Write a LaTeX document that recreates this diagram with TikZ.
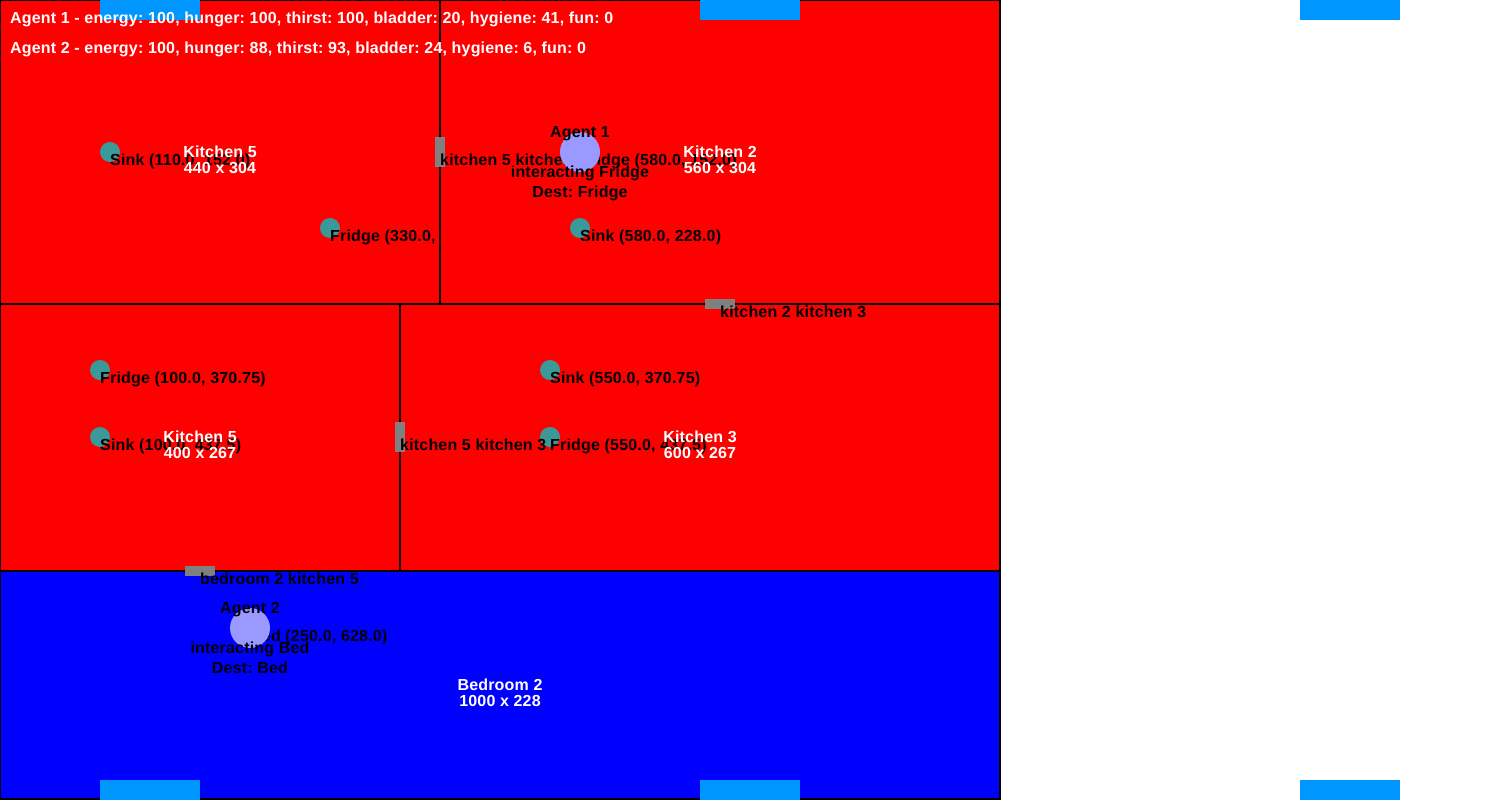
\documentclass[tikz,border=0pt]{standalone}
\usepackage{fontspec}
\setmainfont{Liberation Sans}[BoldFont={Liberation Sans Bold},BoldFeatures={LetterSpace=1.2}]
\frenchspacing
\definecolor{winblue}{HTML}{0096FF}
\definecolor{agentc}{HTML}{9999FF}
\definecolor{objc}{HTML}{3A9A9A}
\tikzset{
  room/.style={draw=black,line width=1.9pt},
  kitchen/.style={room,fill=red},
  bedroom/.style={room,fill=blue},
  win/.style={fill=winblue,draw=none},
  door/.style={fill=gray,draw=none},
  obj/.style={circle,fill=objc,draw=none,minimum size=20pt,inner sep=0pt},
  agent/.style={circle,fill=agentc,draw=none,minimum size=40pt,inner sep=0pt},
  lab/.style={font=\fontsize{16pt}{16pt}\selectfont\bfseries,inner sep=0pt,text=black},
  objlab/.style={lab,anchor=base west},
  agentlab/.style={lab,anchor=base},
  roomlab/.style={lab,anchor=base,text=white},
  stat/.style={lab,anchor=base west,text=white},
}
\begin{document}
\begin{tikzpicture}[x=1pt,y=-1pt]
\useasboundingbox (0,0) rectangle (1500,800);
\fill[white] (0,0) rectangle (1500,800);
% Kitchen 5 (top)
\draw[kitchen] (0,0) rectangle (440,304);
\node[obj] (o1) at (110,152) {};
\node[objlab] (t1) at (110,165) {Sink (110.0, 152.0)};
\node[obj] (o2) at (330,228) {};
\node[objlab] (t2) at (330,241) {Fridge (330.0, 228.0)};
\node[roomlab] (r1a) at (220,157) {Kitchen 5};
\node[roomlab] (r1b) at (220,173) {440 x 304};
% Kitchen 2
\draw[kitchen] (440,0) rectangle (1000,304);
\node[objlab] (t3) at (580,165) {Fridge (580.0, 152.0)};
\node[obj] (o4) at (580,228) {};
\node[objlab] (t4) at (580,241) {Sink (580.0, 228.0)};
\node[roomlab] (r2a) at (720,157) {Kitchen 2};
\node[roomlab] (r2b) at (720,173) {560 x 304};
% Kitchen 5 (lower)
\draw[kitchen] (0,304) rectangle (400,571);
\node[obj] (o5) at (100,370) {};
\node[objlab] (t5) at (100,383) {Fridge (100.0, 370.75)};
\node[obj] (o6) at (100,437) {};
\node[objlab] (t6) at (100,450) {Sink (100.0, 437.5)};
\node[roomlab] (r3a) at (200,442) {Kitchen 5};
\node[roomlab] (r3b) at (200,458) {400 x 267};
% Kitchen 3
\draw[kitchen] (400,304) rectangle (1000,571);
\node[obj] (o7) at (550,370) {};
\node[objlab] (t7) at (550,383) {Sink (550.0, 370.75)};
\node[obj] (o8) at (550,437) {};
\node[objlab] (t8) at (550,450) {Fridge (550.0, 437.5)};
\node[roomlab] (r4a) at (700,442) {Kitchen 3};
\node[roomlab] (r4b) at (700,458) {600 x 267};
% Bedroom 2
\draw[bedroom] (0,571) rectangle (1000,799);
\node[objlab] (t9) at (250,641) {Bed (250.0, 628.0)};
\node[roomlab] (r5a) at (500,690) {Bedroom 2};
\node[roomlab] (r5b) at (500,706) {1000 x 228};
% Doors
\fill[door] (435,137) rectangle (445,167);
\node[objlab] (d1) at (440,165) {kitchen 5 kitchen 2};
\fill[door] (705,299) rectangle (735,309);
\node[objlab] (d2) at (720,317) {kitchen 2 kitchen 3};
\fill[door] (395,422) rectangle (405,452);
\node[objlab] (d3) at (400,450) {kitchen 5 kitchen 3};
\fill[door] (185,566) rectangle (215,576);
\node[objlab] (d4) at (200,584) {bedroom 2 kitchen 5};
% Windows
\fill[win] (100,0) rectangle (200,20);
\fill[win] (700,0) rectangle (800,20);
\fill[win] (1300,0) rectangle (1400,20);
\fill[win] (100,780) rectangle (200,800);
\fill[win] (700,780) rectangle (800,800);
\fill[win] (1300,780) rectangle (1400,800);
% Agents
\node[agent] (a1) at (580,152) {};
\node[agentlab] at (580,137) {Agent 1};
\node[agentlab] at (580,177) {interacting Fridge};
\node[agentlab] at (580,197) {Dest: Fridge};
\node[agent] (a2) at (250,628) {};
\node[agentlab] at (250,613) {Agent 2};
\node[agentlab] at (250,653) {interacting Bed};
\node[agentlab] at (250,673) {Dest: Bed};
% Stats
\node[stat] (s1) at (10,23.5) {Agent 1 - energy: 100, hunger: 100, thirst: 100, bladder: 20, hygiene: 41, fun: 0};
\node[stat] (s2) at (10,53.5) {Agent 2 - energy: 100, hunger: 88, thirst: 93, bladder: 24, hygiene: 6, fun: 0};
\end{tikzpicture}
\end{document}
